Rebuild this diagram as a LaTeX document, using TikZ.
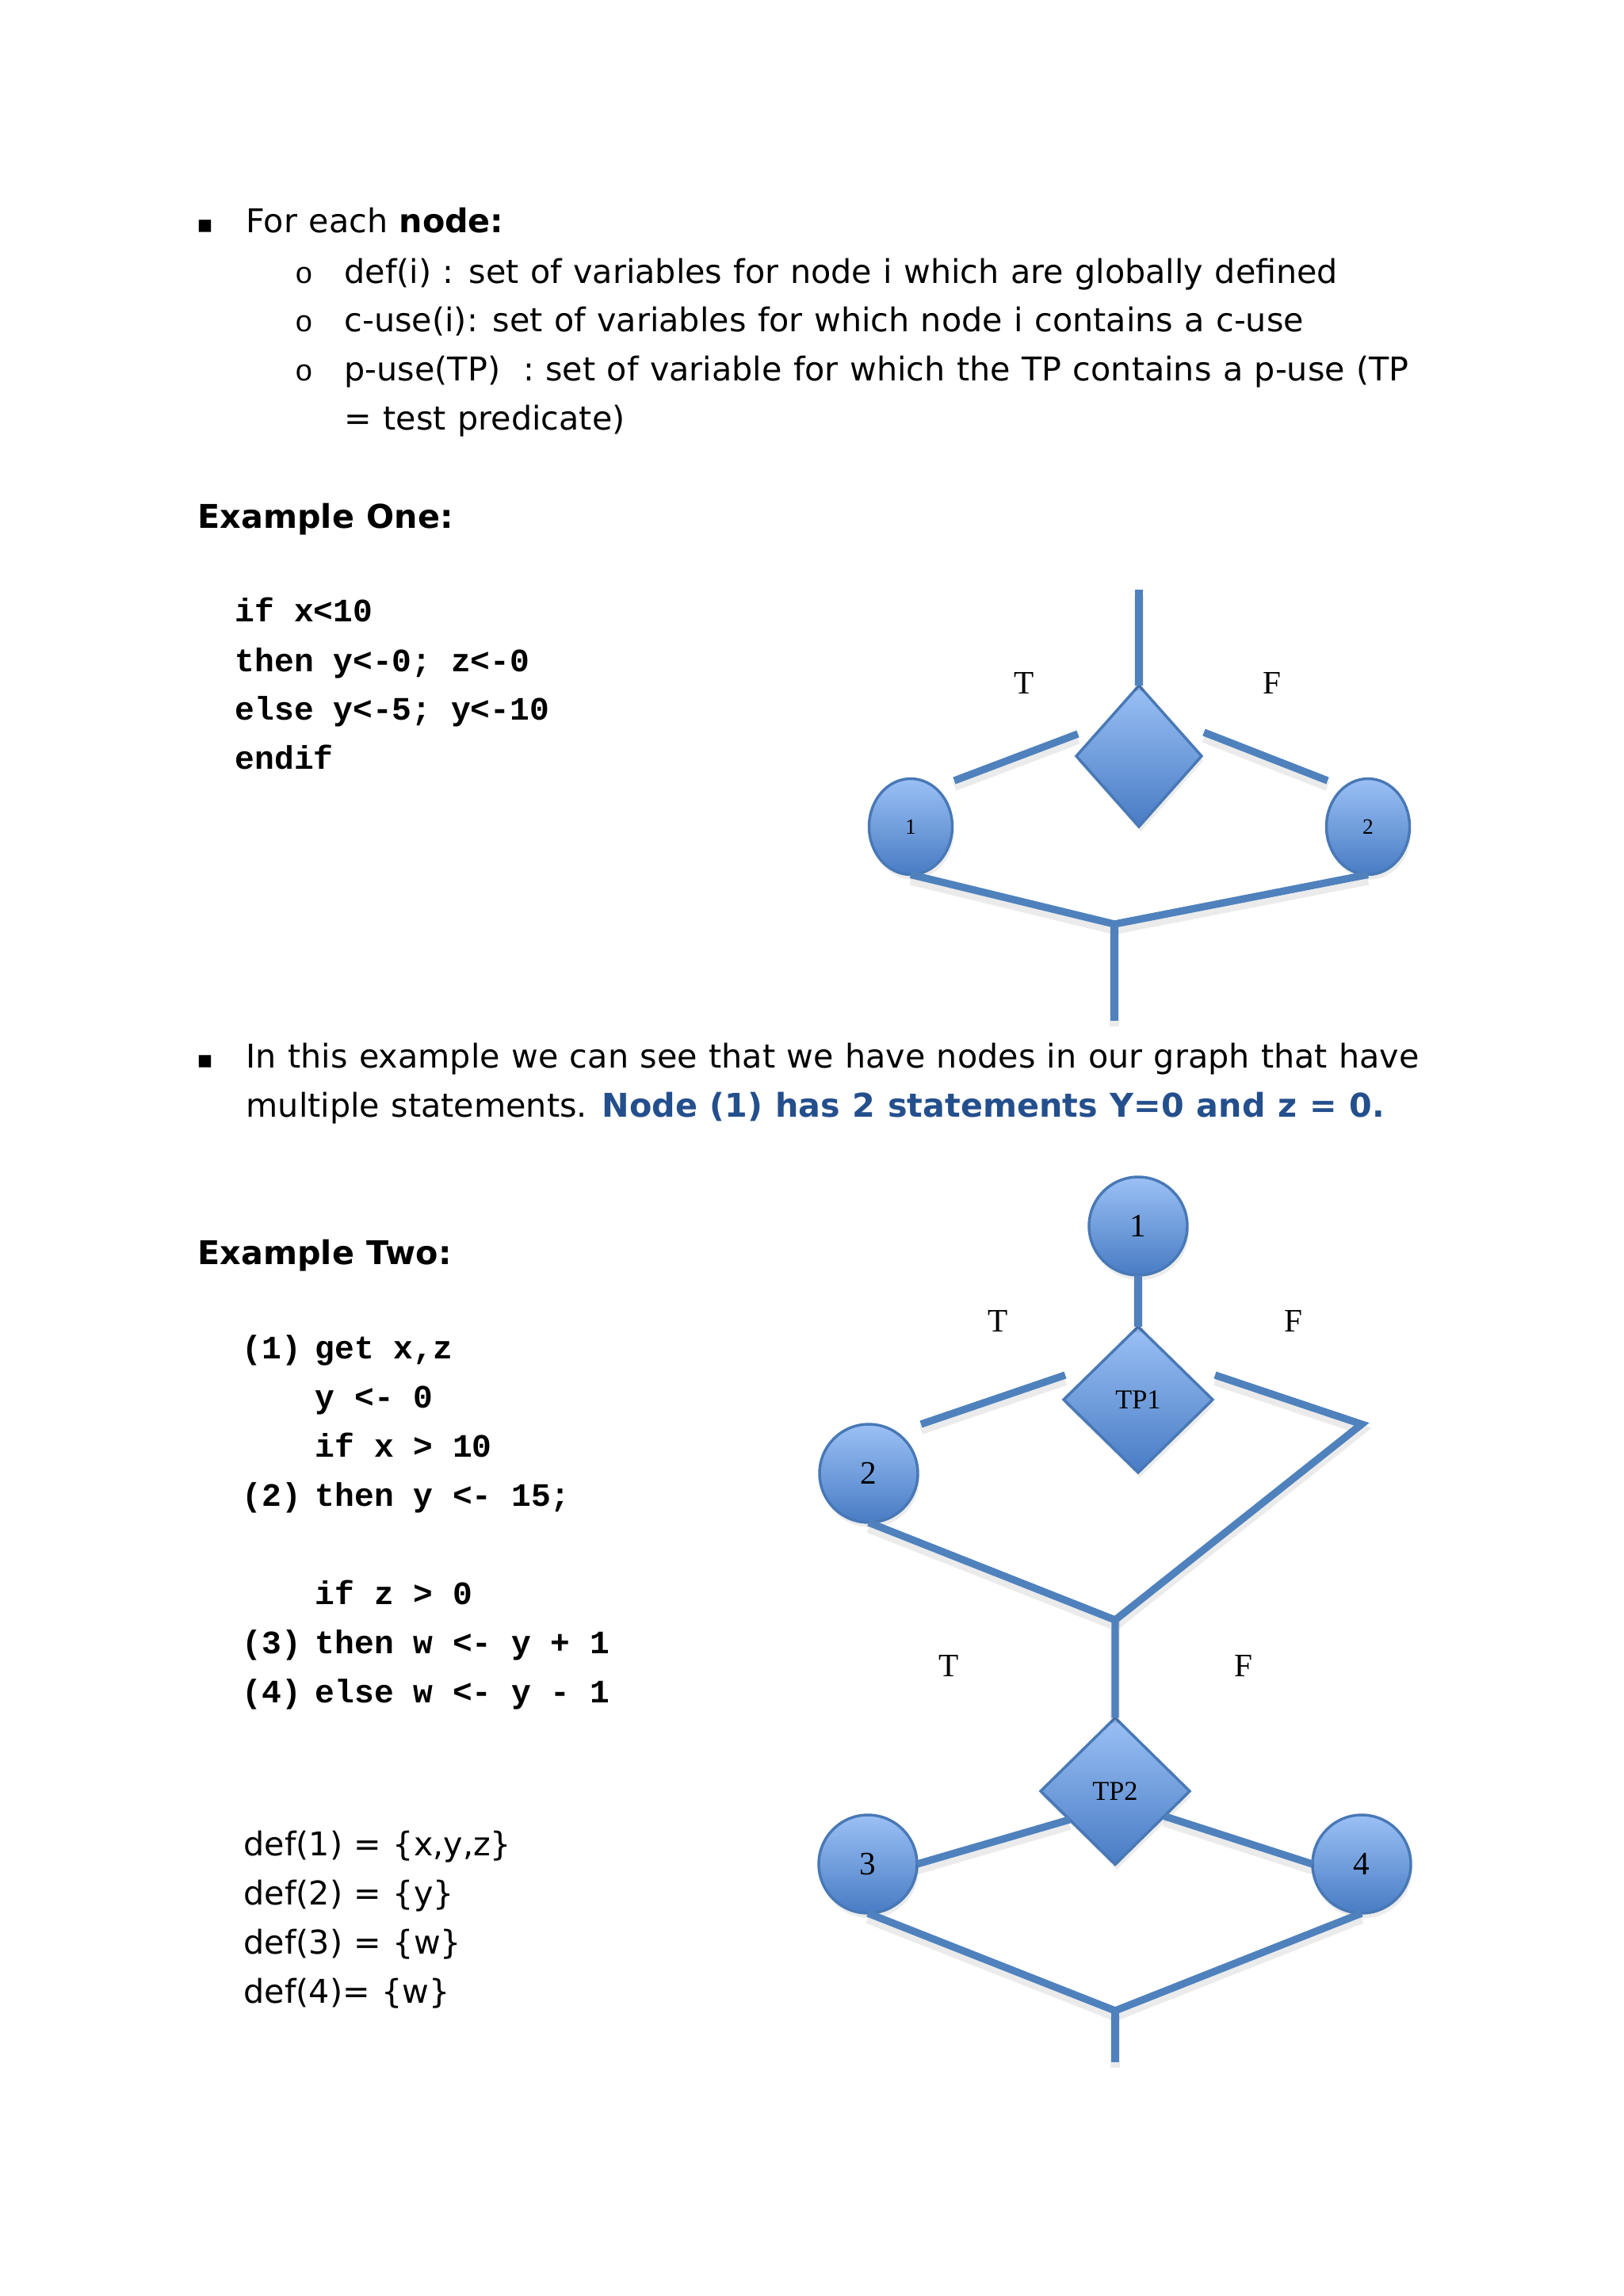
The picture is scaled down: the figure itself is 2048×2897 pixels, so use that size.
\documentclass[tikz,border=0pt]{standalone}
\usepackage{fontspec}
\setmainfont[WordSpace=1.1]{DejaVu Sans}
\newfontfamily\codefont{Liberation Mono}
\newfontfamily\lblfont{Liberation Serif}
\usetikzlibrary{shapes.geometric,shadows}
\definecolor{lineblue}{RGB}{79,129,189}
\definecolor{borderblue}{RGB}{72,120,182}
\definecolor{topblue}{RGB}{155,192,245}
\definecolor{botblue}{RGB}{72,124,196}
\definecolor{boldblue}{RGB}{36,79,141}
\tikzset{
  txt/.style={anchor=base west, inner sep=0pt, font=\fontsize{12}{14.4}\selectfont},
  txtb/.style={txt, font=\fontsize{12}{14.4}\selectfont\bfseries},
  code/.style={anchor=base west, inner sep=0pt, font=\codefont\bfseries\fontsize{12}{14.4}\selectfont},
  bul/.style={anchor=base, inner sep=0pt, font=\fontsize{9}{12}\selectfont},
  subbul/.style={anchor=base, inner sep=0pt, font=\codefont\fontsize{11}{12}\selectfont},
  tf/.style={inner sep=0pt, font=\lblfont\fontsize{12}{12}\selectfont},
  sh/.style={drop shadow={opacity=0.15, shadow xshift=0.6pt, shadow yshift=-1.8pt}},
  shapebase/.style={inner sep=0pt, outer sep=0pt, draw=borderblue, line width=1pt,
    top color=topblue, bottom color=botblue, sh},
  circ/.style={shapebase, circle, minimum size=36.04pt, font=\lblfont\fontsize{12}{12}\selectfont},
  ell/.style={shapebase, ellipse, minimum width=30.52pt, minimum height=35.17pt, font=\lblfont\fontsize{8}{8}\selectfont},
  dia/.style={shapebase, diamond, font=\lblfont\fontsize{10}{10}\selectfont},
  conn/.style={line width=2.7pt, draw=lineblue,
    preaction={draw=black, opacity=0.08, line width=3.6pt, transform canvas={yshift=-2pt}}}
}
\begin{document}
\begin{tikzpicture}[x=0.29067pt, y=-0.29067pt]
\fill[white] (0,0) rectangle (2048,2897);
\path[use as bounding box] (0,0) rectangle (2048,2897);

% ---- bullet list
\node[bul] (bu1) at (259,293) {▪};
\node[txt] (t1) at (310,293) {For each \textbf{node:}};
\node[subbul] (o1) at (384,357) {o};
\node[txt] (t2) at (434,357) {def(i) : set of variables for node i which are globally defined};
\node[subbul] (o2) at (384,418) {o};
\node[txt] (t3) at (434,418) {c-use(i): set of variables for which node i contains a c-use};
\node[subbul] (o3) at (384,480) {o};
\node[txt] (t4) at (434,480) {p-use(TP)\ \ : set of variable for which the TP contains a p-use (TP};
\node[txt] (t5) at (434,542) {= test predicate)};

% ---- example one
\node[txtb] (ex1) at (249,666) {Example One:};
\node[code] (c11) at (296,784) {if x<10};
\node[code] (c12) at (296,847) {then y<-0; z<-0};
\node[code] (c13) at (296,908) {else y<-5; y<-10};
\node[code] (c14) at (296,970) {endif};

% graph 1
\node[ell] (n1a) at (1149,1043) {1};
\node[ell] (n2a) at (1726,1043) {2};
\node[dia, minimum width=45.93pt, minimum height=51.74pt] (d1) at (1437,954) {};
\coordinate (top1) at (1437,744);
\coordinate (j1) at (1406,1166);
\coordinate (end1) at (1406,1288);
\coordinate (bl1s) at (1204,985);
\coordinate (bl1e) at (1360,926);
\coordinate (br1s) at (1519,924);
\coordinate (br1e) at (1675,985);
\draw[conn] (top1) -- (d1.north);
\draw[conn] (bl1s) -- (bl1e);
\draw[conn] (br1s) -- (br1e);
\draw[conn] (n1a.south) -- (j1) -- (n2a.south);
\draw[conn] (j1) -- (end1);
\node[tf] (T1) at (1292,862) {T};
\node[tf] (F1) at (1605,862) {F};

% ---- bullet 2
\node[bul] (bu2) at (259,1347) {▪};
\node[txt] (t6) at (310,1347) {In this example we can see that we have nodes in our graph that have};
\node[txt] (t7) at (310,1409) {multiple statements. {\bfseries\color{boldblue}Node (1) has 2 statements Y=0 and z = 0.}};

% ---- example two
\node[txtb] (ex2) at (249,1595) {Example Two:};
\node[code] (l1) at (305,1714) {(1)};
\node[code] (c21) at (397,1714) {get x,z};
\node[code] (c22) at (397,1776) {y <- 0};
\node[code] (c23) at (397,1838) {if x > 10};
\node[code] (l2) at (305,1900) {(2)};
\node[code] (c24) at (397,1900) {then y <- 15;};
\node[code] (c25) at (397,2024) {if z > 0};
\node[code] (l3) at (305,2086) {(3)};
\node[code] (c26) at (397,2086) {then w <- y + 1};
\node[code] (l4) at (305,2148) {(4)};
\node[code] (c27) at (397,2148) {else w <- y - 1};

\node[txt] (df1) at (307,2341) {def(1) = \{x,y,z\}};
\node[txt] (df2) at (307,2403) {def(2) = \{y\}};
\node[txt] (df3) at (307,2465) {def(3) = \{w\}};
\node[txt] (df4) at (307,2527) {def(4)= \{w\}};

% graph 2
\node[circ] (n1) at (1436,1547) {1};
\node[dia, minimum width=54.65pt, minimum height=53.48pt] (tp1) at (1436,1766) {TP1};
\node[circ] (n2) at (1096,1859) {2};
\node[dia, minimum width=54.65pt, minimum height=53.77pt] (tp2) at (1407,2260) {TP2};
\node[circ] (n3) at (1095,2352) {3};
\node[circ] (n4) at (1718,2352) {4};
\coordinate (bl2s) at (1162,1797);
\coordinate (bl2e) at (1344,1735);
\coordinate (br2s) at (1533,1735);
\coordinate (fc) at (1718,1797);
\coordinate (j2) at (1407,2044);
\coordinate (j3) at (1407,2537);
\coordinate (end2) at (1407,2602);
\draw[conn] (n1.south) -- (tp1.north);
\draw[conn] (bl2s) -- (bl2e);
\draw[conn] (br2s) -- (fc) -- (j2);
\draw[conn] (n2.south) -- (j2) -- (tp2.north);
\draw[conn] (tp2.212) -- (n3.east);
\draw[conn] (tp2.-27) -- (n4.west);
\draw[conn] (n3.south) -- (j3) -- (n4.south);
\draw[conn] (j3) -- (end2);
\node[tf] (T2) at (1259,1667) {T};
\node[tf] (F2) at (1632,1667) {F};
\node[tf] (T3) at (1197,2102) {T};
\node[tf] (F3) at (1569,2102) {F};
\end{tikzpicture}
\end{document}
